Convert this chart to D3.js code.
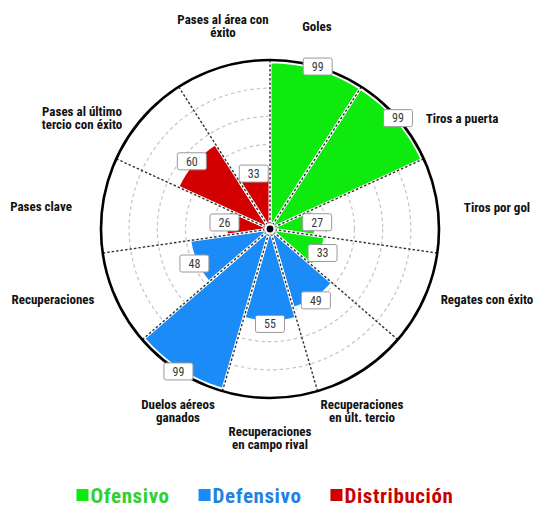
<!DOCTYPE html>
<html><head><meta charset="utf-8">
<script src="https://cdn.jsdelivr.net/npm/d3@7"></script>
<style>
body{margin:0;background:#fff;}
svg text{font-family:"Liberation Sans Narrow","Roboto Condensed","Arial Narrow","DejaVu Sans Condensed",sans-serif;}
</style></head><body>
<svg id="chart" width="534" height="515"></svg>
<script>
// Player profile: percentile per metric, grouped by category
const categories = ["Goles","Tiros a puerta","Tiros por gol","Regates con éxito","Recuperaciones\nen últ. tercio","Recuperaciones\nen campo rival","Duelos aéreos\nganados","Recuperaciones","Pases clave","Pases al último\ntercio con éxito","Pases al área con\néxito"];
const values = [99, 99, 27, 33, 49, 55, 99, 48, 26, 60, 33];
const groups = ["Ofensivo","Ofensivo","Ofensivo","Ofensivo","Defensivo","Defensivo","Defensivo","Defensivo","Distribución","Distribución","Distribución"];
const groupNames = ["Ofensivo","Defensivo","Distribución"];

// Styling / layout
const fillColors = {"Ofensivo":"#0eea0e","Defensivo":"#1a8bf7","Distribución":"#d20000"};
const legendText = {"Ofensivo":"#2fd12f","Defensivo":"#1f82e6","Distribución":"#c90000"};
const W = 534, H = 515, cx = 270, cy = 229, R = 169;
// category label block centres, relative to the chart centre
const labelOffsets = [[47,-203],[192,-111],[227,-22],[217,70],[92,182],[0,209],[-92,182],[-217,70],[-229,-23],[-188,-111],[-47,-203]];

const svg = d3.select("#chart");
const g = svg.append("g").attr("transform", `translate(${cx},${cy})`);

const angle = d3.scaleBand().domain(categories).range([0, 2 * Math.PI]).padding(0);
const r = d3.scaleLinear().domain([0, 100]).range([0, R]);
const mid = c => angle(c) + angle.bandwidth() / 2;

// dashed grid rings
const rings = d3.range(1, 6).map(k => R * k / 6);
g.selectAll("circle.ring").data(rings).join("circle")
  .attr("class","ring").attr("r", d => d)
  .attr("fill","none").attr("stroke","#c4c4c4").attr("stroke-width",1.2)
  .attr("stroke-dasharray","3.5,3");

// wedges
const arc = d3.arc().innerRadius(0)
  .startAngle(d => angle(d.c)).endAngle(d => angle(d.c) + angle.bandwidth())
  .outerRadius(d => r(d.v));
const rows = categories.map((c, i) => ({c, v: values[i], grp: groups[i]}));
g.selectAll("path.bar").data(rows).join("path")
  .attr("class","bar").attr("d", arc)
  .attr("fill", d => fillColors[d.grp])
  .attr("stroke","#fff").attr("stroke-width",3).attr("stroke-linejoin","round");

// spokes
const spokeAngles = categories.map(c => angle(c));
g.selectAll("line.spoke").data(spokeAngles).join("line")
  .attr("class","spoke")
  .attr("x1",0).attr("y1",0)
  .attr("x2", a => R * Math.sin(a)).attr("y2", a => -R * Math.cos(a))
  .attr("stroke","#333").attr("stroke-width",1.4).attr("stroke-dasharray","2.5,2");

// outer circle
g.append("circle").attr("r", R).attr("fill","none").attr("stroke","#000").attr("stroke-width",2.6);

// centre marker
g.append("circle").attr("r",6).attr("fill","#fff").attr("stroke","#999").attr("stroke-width",0.6);
g.append("circle").attr("r",3.4).attr("fill","#000");

// value boxes
const vb = g.selectAll("g.val").data(rows).join("g").attr("class","val")
  .attr("transform", d => {
    const a = mid(d.c), rr = r(d.v) + 2;
    return `translate(${rr * Math.sin(a)},${-rr * Math.cos(a)})`;
  });
vb.append("rect").attr("x",-14.5).attr("y",-8.5).attr("width",29).attr("height",17)
  .attr("rx",2).attr("fill","#fff").attr("stroke","#9a9a9a").attr("stroke-width",1);
vb.append("text").attr("text-anchor","middle").attr("dy","0.36em")
  .attr("font-size",12).attr("fill","#3a3a3a").text(d => d.v);

// category labels
const lh = 13.5;
const lab = g.selectAll("text.cat").data(categories).join("text").attr("class","cat")
  .attr("text-anchor","middle").attr("font-size",13).attr("font-weight","bold").attr("fill","#111");
lab.each(function(c, i) {
  const lines = c.split("\n");
  const [dx, dy] = labelOffsets[i];
  d3.select(this).selectAll("tspan").data(lines).join("tspan")
    .attr("x", dx)
    .attr("y", (l, j) => dy + (j - (lines.length - 1) / 2) * lh)
    .attr("dy","0.35em")
    .text(l => l);
});

// legend
const leg = svg.append("g");
let x = 0;
const gap = 29;
groupNames.forEach(n => {
  const it = leg.append("g").attr("transform", `translate(${x},0)`);
  it.append("rect").attr("x",0).attr("y",-6).attr("width",12).attr("height",12).attr("fill",fillColors[n]);
  const t = it.append("text").attr("x",14).attr("dy","0.36em")
    .attr("font-size",21).attr("font-weight","bold").attr("letter-spacing","0.6px")
    .attr("fill",legendText[n]).text(n);
  x += 14 + t.node().getComputedTextLength() + gap;
});
const total = x - gap;
leg.attr("transform", `translate(${265 - total / 2},495)`);
</script>
</body></html>
